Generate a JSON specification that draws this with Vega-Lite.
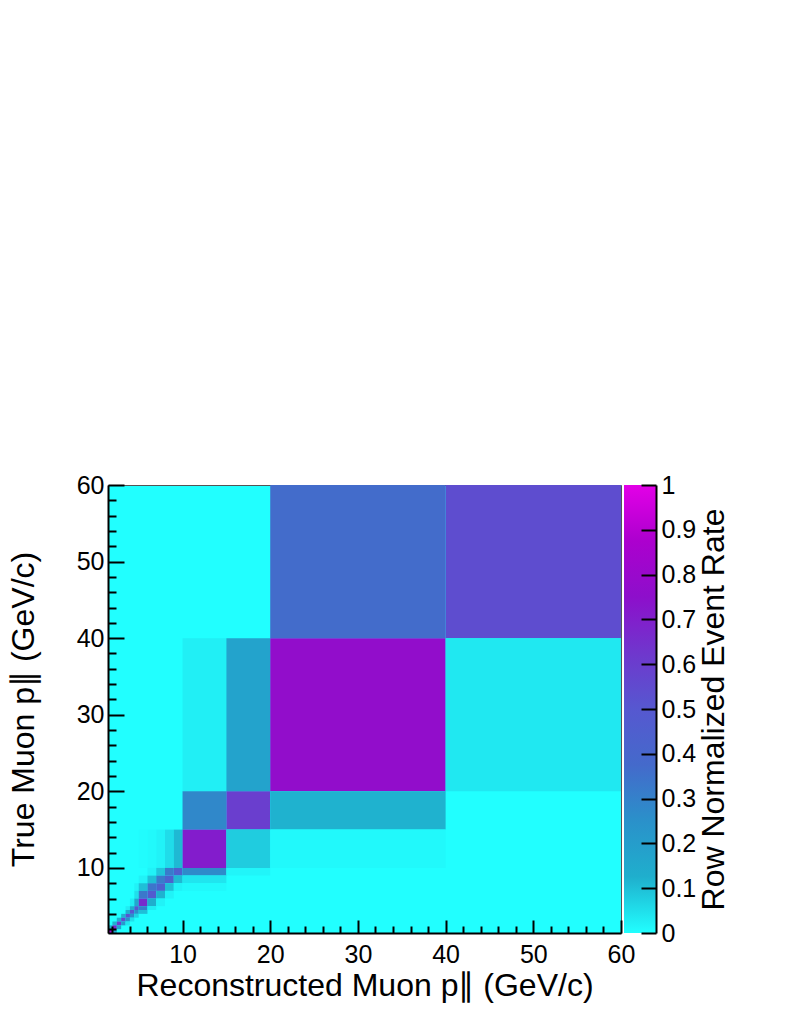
{
  "$schema": "https://vega.github.io/schema/vega-lite/v6.json",
  "background": "white",
  "padding": {"left": 6, "top": 472, "right": 5, "bottom": 5},
  "config": {"font": "Liberation Sans", "concat": {"spacing": 3}},
  "spacing": 3,
  "bounds": "flush",
  "datasets": {
    "cells": [
      {"reco_lo": 20, "reco_hi": 40, "true_lo": 40, "true_hi": 60, "rate": 0.37},
      {"reco_lo": 40, "reco_hi": 60, "true_lo": 40, "true_hi": 60, "rate": 0.54},
      {"reco_lo": 10, "reco_hi": 15, "true_lo": 20, "true_hi": 40, "rate": 0.025},
      {"reco_lo": 15, "reco_hi": 20, "true_lo": 20, "true_hi": 40, "rate": 0.175},
      {"reco_lo": 20, "reco_hi": 40, "true_lo": 20, "true_hi": 40, "rate": 0.77},
      {"reco_lo": 40, "reco_hi": 60, "true_lo": 20, "true_hi": 40, "rate": 0.036},
      {"reco_lo": 10, "reco_hi": 15, "true_lo": 15, "true_hi": 20, "rate": 0.28},
      {"reco_lo": 15, "reco_hi": 20, "true_lo": 15, "true_hi": 20, "rate": 0.6},
      {"reco_lo": 20, "reco_hi": 40, "true_lo": 15, "true_hi": 20, "rate": 0.12},
      {"reco_lo": 5, "reco_hi": 6, "true_lo": 10, "true_hi": 15, "rate": 0.005},
      {"reco_lo": 6, "reco_hi": 7, "true_lo": 10, "true_hi": 15, "rate": 0.01},
      {"reco_lo": 7, "reco_hi": 8, "true_lo": 10, "true_hi": 15, "rate": 0.02},
      {"reco_lo": 8, "reco_hi": 9, "true_lo": 10, "true_hi": 15, "rate": 0.055},
      {"reco_lo": 9, "reco_hi": 10, "true_lo": 10, "true_hi": 15, "rate": 0.11},
      {"reco_lo": 10, "reco_hi": 15, "true_lo": 10, "true_hi": 15, "rate": 0.71},
      {"reco_lo": 15, "reco_hi": 20, "true_lo": 10, "true_hi": 15, "rate": 0.08},
      {"reco_lo": 20, "reco_hi": 40, "true_lo": 10, "true_hi": 15, "rate": 0.01},
      {"reco_lo": 6, "reco_hi": 7, "true_lo": 9, "true_hi": 10, "rate": 0.02},
      {"reco_lo": 7, "reco_hi": 8, "true_lo": 9, "true_hi": 10, "rate": 0.09},
      {"reco_lo": 8, "reco_hi": 9, "true_lo": 9, "true_hi": 10, "rate": 0.32},
      {"reco_lo": 9, "reco_hi": 10, "true_lo": 9, "true_hi": 10, "rate": 0.44},
      {"reco_lo": 10, "reco_hi": 15, "true_lo": 9, "true_hi": 10, "rate": 0.27},
      {"reco_lo": 15, "reco_hi": 20, "true_lo": 9, "true_hi": 10, "rate": 0.015},
      {"reco_lo": 5, "reco_hi": 6, "true_lo": 8, "true_hi": 9, "rate": 0.02},
      {"reco_lo": 6, "reco_hi": 7, "true_lo": 8, "true_hi": 9, "rate": 0.1},
      {"reco_lo": 7, "reco_hi": 8, "true_lo": 8, "true_hi": 9, "rate": 0.32},
      {"reco_lo": 8, "reco_hi": 9, "true_lo": 8, "true_hi": 9, "rate": 0.44},
      {"reco_lo": 9, "reco_hi": 10, "true_lo": 8, "true_hi": 9, "rate": 0.11},
      {"reco_lo": 10, "reco_hi": 15, "true_lo": 8, "true_hi": 9, "rate": 0.04},
      {"reco_lo": 4.5, "reco_hi": 5, "true_lo": 7, "true_hi": 8, "rate": 0.02},
      {"reco_lo": 5, "reco_hi": 6, "true_lo": 7, "true_hi": 8, "rate": 0.1},
      {"reco_lo": 6, "reco_hi": 7, "true_lo": 7, "true_hi": 8, "rate": 0.34},
      {"reco_lo": 7, "reco_hi": 8, "true_lo": 7, "true_hi": 8, "rate": 0.44},
      {"reco_lo": 8, "reco_hi": 9, "true_lo": 7, "true_hi": 8, "rate": 0.1},
      {"reco_lo": 9, "reco_hi": 10, "true_lo": 7, "true_hi": 8, "rate": 0.02},
      {"reco_lo": 10, "reco_hi": 15, "true_lo": 7, "true_hi": 8, "rate": 0.01},
      {"reco_lo": 4.5, "reco_hi": 5, "true_lo": 6, "true_hi": 7, "rate": 0.05},
      {"reco_lo": 5, "reco_hi": 6, "true_lo": 6, "true_hi": 7, "rate": 0.33},
      {"reco_lo": 6, "reco_hi": 7, "true_lo": 6, "true_hi": 7, "rate": 0.47},
      {"reco_lo": 7, "reco_hi": 8, "true_lo": 6, "true_hi": 7, "rate": 0.12},
      {"reco_lo": 8, "reco_hi": 9, "true_lo": 6, "true_hi": 7, "rate": 0.02},
      {"reco_lo": 4, "reco_hi": 4.5, "true_lo": 5, "true_hi": 6, "rate": 0.03},
      {"reco_lo": 4.5, "reco_hi": 5, "true_lo": 5, "true_hi": 6, "rate": 0.16},
      {"reco_lo": 5, "reco_hi": 6, "true_lo": 5, "true_hi": 6, "rate": 0.66},
      {"reco_lo": 6, "reco_hi": 7, "true_lo": 5, "true_hi": 6, "rate": 0.13},
      {"reco_lo": 7, "reco_hi": 8, "true_lo": 5, "true_hi": 6, "rate": 0.02},
      {"reco_lo": 3.5, "reco_hi": 4, "true_lo": 4.5, "true_hi": 5, "rate": 0.03},
      {"reco_lo": 4, "reco_hi": 4.5, "true_lo": 4.5, "true_hi": 5, "rate": 0.13},
      {"reco_lo": 4.5, "reco_hi": 5, "true_lo": 4.5, "true_hi": 5, "rate": 0.5},
      {"reco_lo": 5, "reco_hi": 6, "true_lo": 4.5, "true_hi": 5, "rate": 0.3},
      {"reco_lo": 6, "reco_hi": 7, "true_lo": 4.5, "true_hi": 5, "rate": 0.03},
      {"reco_lo": 3.5, "reco_hi": 4, "true_lo": 4, "true_hi": 4.5, "rate": 0.12},
      {"reco_lo": 4, "reco_hi": 4.5, "true_lo": 4, "true_hi": 4.5, "rate": 0.5},
      {"reco_lo": 4.5, "reco_hi": 5, "true_lo": 4, "true_hi": 4.5, "rate": 0.25},
      {"reco_lo": 5, "reco_hi": 6, "true_lo": 4, "true_hi": 4.5, "rate": 0.1},
      {"reco_lo": 3, "reco_hi": 3.5, "true_lo": 3.5, "true_hi": 4, "rate": 0.12},
      {"reco_lo": 3.5, "reco_hi": 4, "true_lo": 3.5, "true_hi": 4, "rate": 0.52},
      {"reco_lo": 4, "reco_hi": 4.5, "true_lo": 3.5, "true_hi": 4, "rate": 0.25},
      {"reco_lo": 4.5, "reco_hi": 5, "true_lo": 3.5, "true_hi": 4, "rate": 0.07},
      {"reco_lo": 2.5, "reco_hi": 3, "true_lo": 3, "true_hi": 3.5, "rate": 0.12},
      {"reco_lo": 3, "reco_hi": 3.5, "true_lo": 3, "true_hi": 3.5, "rate": 0.55},
      {"reco_lo": 3.5, "reco_hi": 4, "true_lo": 3, "true_hi": 3.5, "rate": 0.25},
      {"reco_lo": 4, "reco_hi": 4.5, "true_lo": 3, "true_hi": 3.5, "rate": 0.05},
      {"reco_lo": 2, "reco_hi": 2.5, "true_lo": 2.5, "true_hi": 3, "rate": 0.12},
      {"reco_lo": 2.5, "reco_hi": 3, "true_lo": 2.5, "true_hi": 3, "rate": 0.6},
      {"reco_lo": 3, "reco_hi": 3.5, "true_lo": 2.5, "true_hi": 3, "rate": 0.22},
      {"reco_lo": 3.5, "reco_hi": 4, "true_lo": 2.5, "true_hi": 3, "rate": 0.04},
      {"reco_lo": 1.5, "reco_hi": 2, "true_lo": 2, "true_hi": 2.5, "rate": 0.12},
      {"reco_lo": 2, "reco_hi": 2.5, "true_lo": 2, "true_hi": 2.5, "rate": 0.68},
      {"reco_lo": 2.5, "reco_hi": 3, "true_lo": 2, "true_hi": 2.5, "rate": 0.18},
      {"reco_lo": 1.5, "reco_hi": 2, "true_lo": 1.5, "true_hi": 2, "rate": 0.82},
      {"reco_lo": 2, "reco_hi": 2.5, "true_lo": 1.5, "true_hi": 2, "rate": 0.16}
    ]
  },
  "hconcat": [
    {
      "width": 513,
      "height": 448,
      "data": {"name": "cells"},
      "view": {"fill": "#21ffff", "stroke": "#555555", "strokeWidth": 1},
      "mark": {"type": "rect"},
      "encoding": {
        "x": {
          "field": "reco_lo", "type": "quantitative",
          "scale": {"domain": [1.5, 60], "nice": false, "zero": false},
          "axis": {
            "title": "Reconstructed Muon p∥ (GeV/c)",
            "values": [2,4,6,8,10,12,14,16,18,20,22,24,26,28,30,32,34,36,38,40,42,44,46,48,50,52,54,56,58,60],
            "labelExpr": "datum.value % 10 === 0 ? datum.label : ''",
            "tickSize": {"condition": {"test": "datum.value % 10 === 0", "value": -13}, "value": -7},
            "labelPadding": 22, "labelFlush": false, "labelOverlap": false, "grid": false, "zindex": 2,
            "domainColor": "black", "domainWidth": 2, "tickColor": "black", "tickWidth": 2,
            "labelFontSize": 25, "labelColor": "black", "labelFont": "Liberation Sans",
            "titleFontSize": 32, "titleFontWeight": "normal", "titleColor": "black", "titleFont": "Liberation Sans",
            "titlePadding": -3
          }
        },
        "x2": {"field": "reco_hi"},
        "y": {
          "field": "true_lo", "type": "quantitative",
          "scale": {"domain": [1.5, 60], "nice": false, "zero": false},
          "axis": {
            "title": "True Muon p∥ (GeV/c)",
            "values": [2,4,6,8,10,12,14,16,18,20,22,24,26,28,30,32,34,36,38,40,42,44,46,48,50,52,54,56,58,60],
            "labelExpr": "datum.value % 10 === 0 ? datum.label : ''",
            "tickSize": {"condition": {"test": "datum.value % 10 === 0", "value": -16}, "value": -8},
            "labelPadding": 20, "labelFlush": false, "labelOverlap": false, "grid": false, "zindex": 2,
            "domainColor": "black", "domainWidth": 2, "tickColor": "black", "tickWidth": 2,
            "labelFontSize": 25, "labelColor": "black", "labelFont": "Liberation Sans",
            "titleFontSize": 32, "titleFontWeight": "normal", "titleColor": "black", "titleFont": "Liberation Sans",
            "titlePadding": 36
          }
        },
        "y2": {"field": "true_hi"},
        "color": {
          "field": "rate", "type": "quantitative",
          "scale": {
            "domain": [0, 0.125, 0.25, 0.375, 0.5, 0.625, 0.75, 0.875, 1],
            "range": ["#21ffff", "#1fafcd", "#2a91ca", "#446acb", "#5658d0", "#6f37cd", "#8d0fcb", "#ac00ce", "#e300e7"],
            "interpolate": "rgb"
          },
          "legend": null
        }
      }
    },
    {
      "width": 32,
      "height": 448,
      "data": {"values": [{"lo": 0, "hi": 1}]},
      "view": {"stroke": null},
      "mark": {
        "type": "rect",
        "color": {
          "gradient": "linear", "x1": 0, "y1": 1, "x2": 0, "y2": 0,
          "stops": [
            {"offset": 0, "color": "#21ffff"},
            {"offset": 0.125, "color": "#1fafcd"},
            {"offset": 0.25, "color": "#2a91ca"},
            {"offset": 0.375, "color": "#446acb"},
            {"offset": 0.5, "color": "#5658d0"},
            {"offset": 0.625, "color": "#6f37cd"},
            {"offset": 0.75, "color": "#8d0fcb"},
            {"offset": 0.875, "color": "#ac00ce"},
            {"offset": 1, "color": "#e300e7"}
          ]
        }
      },
      "encoding": {
        "y": {
          "field": "lo", "type": "quantitative",
          "scale": {"domain": [0, 1], "nice": false, "zero": false},
          "axis": {
            "orient": "right",
            "title": "Row Normalized Event Rate",
            "values": [0, 0.1, 0.2, 0.3, 0.4, 0.5, 0.6, 0.7, 0.8, 0.9, 1],
            "format": "~g",
            "tickSize": -15, "labelPadding": 20, "labelFlush": false, "labelOverlap": false, "grid": false, "zindex": 2,
            "domainColor": "black", "domainWidth": 2, "tickColor": "black", "tickWidth": 2,
            "labelFontSize": 25, "labelColor": "black", "labelFont": "Liberation Sans",
            "titleFontSize": 32, "titleFontWeight": "normal", "titleColor": "black", "titleFont": "Liberation Sans",
            "titleAngle": -90, "titleBaseline": "top", "titlePadding": 3
          }
        },
        "y2": {"field": "hi"}
      }
    }
  ]
}
